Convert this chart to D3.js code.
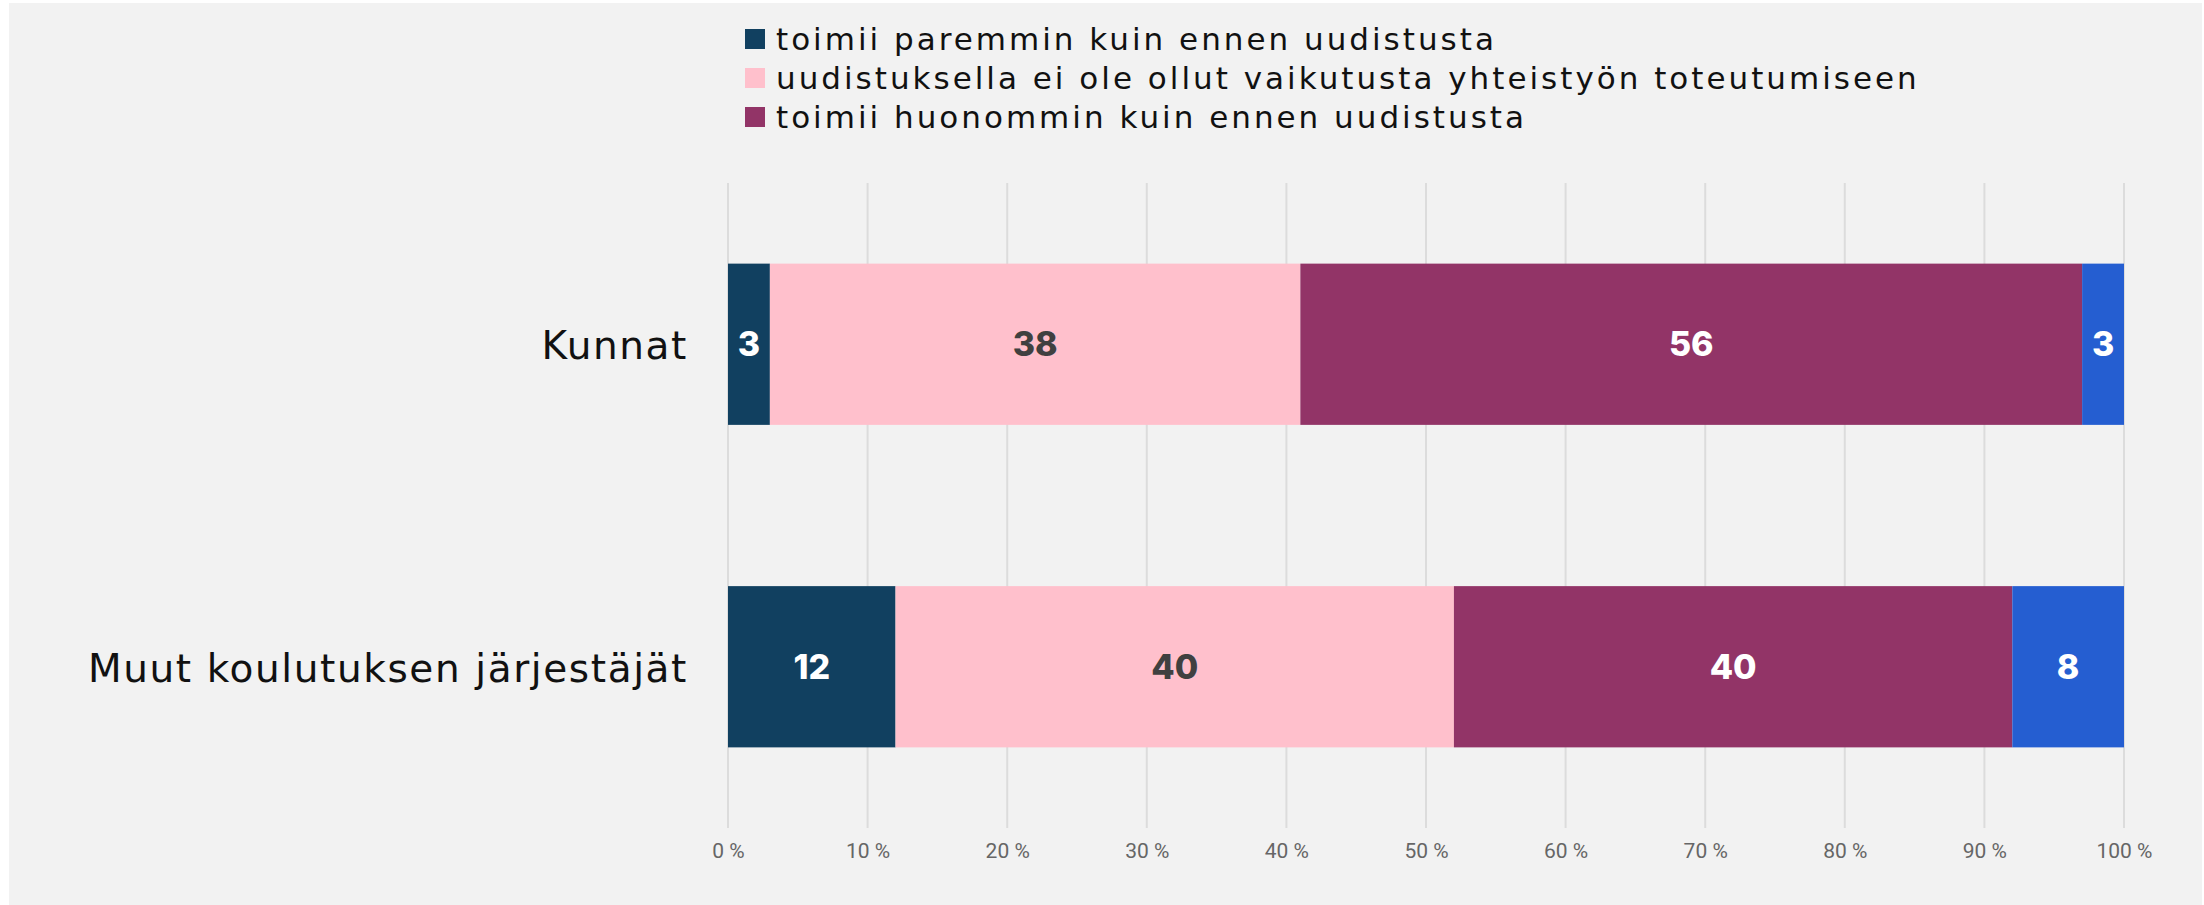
<!DOCTYPE html>
<html>
<head>
<meta charset="utf-8">
<script src="https://cdn.jsdelivr.net/npm/d3@7"></script>
<style>
  body { margin: 0; background: #ffffff; }
  svg { display: block; }
</style>
</head>
<body>
<div id="chart"></div>
<script>
// Data (percent)
const categories = ["Kunnat", "Muut koulutuksen järjestäjät"];
const seriesKeys = ["parempi", "eiVaikutusta", "huonompi", "muu"];
const legendLabels = [
    "toimii paremmin kuin ennen uudistusta",
    "uudistuksella ei ole ollut vaikutusta yhteistyön toteutumiseen",
    "toimii huonommin kuin ennen uudistusta"
];
const parempi = [3, 12];
const eiVaikutusta = [38, 40];
const huonompi = [56, 40];
const muu = [3, 8];
const xTicks = [0, 10, 20, 30, 40, 50, 60, 70, 80, 90, 100];

const colors = ["#114060", "#ffc0cc", "#923467", "#255ed1"];
const labelColors = ["#ffffff", "#404040", "#ffffff", "#ffffff"];

const width = 2204;
const height = 905;

// Build rows for the stack layout
const rows = categories.map((c, i) => ({
    category: c,
    parempi: parempi[i],
    eiVaikutusta: eiVaikutusta[i],
    huonompi: huonompi[i],
    muu: muu[i]
}));

const stacked = d3.stack().keys(seriesKeys)(rows);

const svg = d3.select("#chart")
    .append("svg")
    .attr("width", width)
    .attr("height", height);

// Gray chart background
svg.append("rect")
    .attr("x", 9)
    .attr("y", 3)
    .attr("width", 2193)
    .attr("height", 902)
    .attr("fill", "#f2f2f2");

const x = d3.scaleLinear().domain([0, 100]).range([728, 2124]);
const y = d3.scaleBand()
    .domain(categories)
    .range([183, 828])
    .paddingInner(0.5)
    .paddingOuter(0.25);

// Vertical gridlines
svg.append("g")
    .selectAll("line")
    .data(xTicks)
    .enter()
    .append("line")
    .attr("x1", d => x(d))
    .attr("x2", d => x(d))
    .attr("y1", 183)
    .attr("y2", 828)
    .attr("stroke", "#dcdcdc")
    .attr("stroke-width", 2);

// Bottom axis labels
const xAxis = svg.append("g")
    .attr("transform", "translate(0,843)")
    .call(d3.axisBottom(x).tickValues(xTicks).tickFormat(d => d + " %").tickSize(0).tickPadding(0));
xAxis.select(".domain").remove();
xAxis.selectAll("text")
    .attr("dy", "0.71em")
    .attr("font-family", "Roboto, sans-serif")
    .attr("font-size", 21)
    .attr("fill", "#666666");

// Stacked bars
const groups = svg.append("g")
    .selectAll("g")
    .data(stacked)
    .enter()
    .append("g")
    .attr("fill", (d, i) => colors[i]);

groups.selectAll("rect")
    .data(d => d)
    .enter()
    .append("rect")
    .attr("x", d => x(d[0]))
    .attr("y", d => y(d.data.category))
    .attr("width", d => x(d[1]) - x(d[0]))
    .attr("height", y.bandwidth());

// Value labels inside segments
stacked.forEach((s, i) => {
    svg.append("g")
        .selectAll("text")
        .data(s)
        .enter()
        .append("text")
        .attr("x", d => (x(d[0]) + x(d[1])) / 2)
        .attr("y", d => y(d.data.category) + y.bandwidth() / 2)
        .attr("dy", "0.36em")
        .attr("text-anchor", "middle")
        .attr("font-family", "Inter, sans-serif")
        .attr("font-weight", 800)
        .attr("font-size", 34)
        .attr("fill", labelColors[i])
        .text(d => d[1] - d[0]);
});

// Category labels
svg.append("g")
    .selectAll("text")
    .data(categories)
    .enter()
    .append("text")
    .attr("x", 688)
    .attr("y", d => y(d) + y.bandwidth() / 2)
    .attr("dy", "0.38em")
    .attr("text-anchor", "end")
    .attr("font-family", "'DejaVu Sans', sans-serif")
    .attr("font-size", 39)
    .attr("letter-spacing", 1.6)
    .attr("fill", "#111111")
    .text(d => d);

// Legend
const legend = svg.append("g")
    .selectAll("g")
    .data(legendLabels)
    .enter()
    .append("g")
    .attr("transform", (d, i) => `translate(745,${29 + i * 39})`);

legend.append("rect")
    .attr("width", 20)
    .attr("height", 20)
    .attr("fill", (d, i) => colors[i]);

legend.append("text")
    .attr("x", 31)
    .attr("y", 10)
    .attr("dy", "0.37em")
    .attr("font-family", "'DejaVu Sans', sans-serif")
    .attr("font-size", 31)
    .attr("letter-spacing", 3)
    .attr("fill", "#111111")
    .text(d => d);
</script>
</body>
</html>
